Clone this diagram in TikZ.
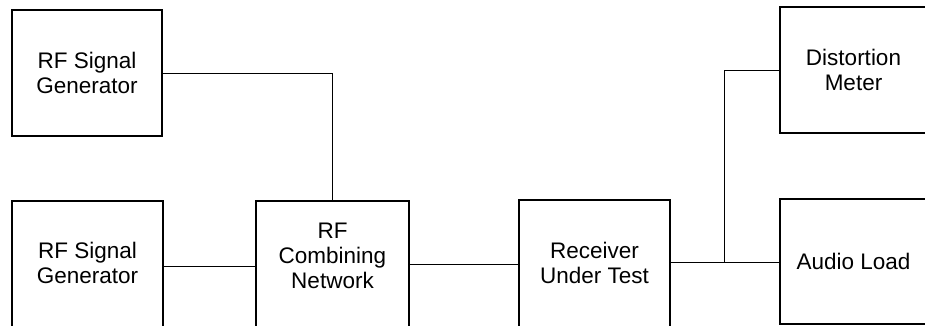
\documentclass[tikz,border=0pt]{standalone}
\usepackage{fontspec}
\setmainfont{Liberation Sans}
\begin{document}
\begin{tikzpicture}[x=1pt,y=-1pt,
  box/.style={draw,line width=1.5pt,align=center,inner sep=0pt,
    font=\fontsize{22.5}{25}\selectfont},
  wire/.style={line width=0.9pt}]
\useasboundingbox (0,0) rectangle (925,326);
\begin{scope}
\clip (0,0) rectangle (925,326);
\node[box,minimum width=150pt,minimum height=126pt] (g1) at (87,73) {RF Signal\\Generator};
\node[box,minimum width=151pt,minimum height=128pt,text depth=4pt] (g2) at (87.5,265) {RF Signal\\Generator};
\node[box,minimum width=153pt,minimum height=128pt,text depth=18pt] (comb) at (332.5,265) {RF\\Combining\\Network};
\node[box,minimum width=151pt,minimum height=127pt,text depth=2pt] (recv) at (594.5,263.5) {Receiver\\Under Test};
\node[box,minimum width=147pt,minimum height=126pt] (dist) at (853.5,70) {Distortion\\Meter};
\node[box,minimum width=147pt,minimum height=125pt] (audio) at (853.5,261.5) {Audio Load};
\coordinate (br) at (724,262);
\draw[wire] (g1.east) -| (comb.north);
\draw[wire] ([yshift=-1pt]g2.east) -- ([yshift=-1pt]comb.west);
\draw[wire] ([yshift=0.5pt]comb.east) -- ([yshift=0.5pt]comb.east -| recv.west);
\draw[wire] (br -| recv.east) -- (br -| audio.west);
\draw[wire] (br) |- (dist.west);
\end{scope}
\end{tikzpicture}
\end{document}
